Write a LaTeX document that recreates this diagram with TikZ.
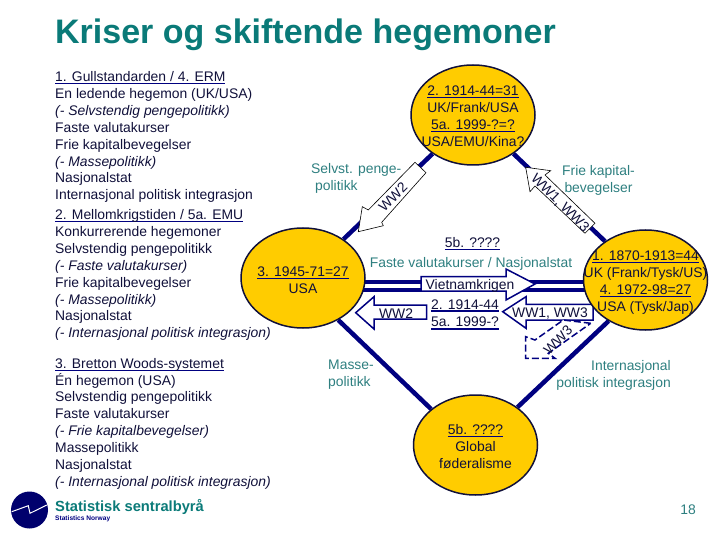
\documentclass[tikz,border=0pt]{standalone}
\usepackage{fontspec}
\setmainfont{Liberation Sans}
\usetikzlibrary{calc,shapes.geometric}
\pgfdeclarelayer{bg}
\pgfsetlayers{bg,main}
\definecolor{navy}{HTML}{000080}
\definecolor{ink}{HTML}{10103A}
\definecolor{tealt}{HTML}{0A7A78}
\definecolor{tealn}{HTML}{2E7F80}
\definecolor{gold}{HTML}{FFCC00}
\newcommand\ulx[1]{\sbox0{#1}\leavevmode\rlap{\textcolor{navy}{\rule[-2.6pt]{\wd0}{1.3pt}}}\box0 }
\newcommand\fs{\fontsize{13.9}{16.85}\selectfont}
\tikzset{
  x=1pt,y=-1pt,
  hub/.style={ellipse,draw=ink,line width=1.5pt,fill=gold,minimum width=124pt,minimum height=100pt,inner sep=0pt},
  link/.style={draw=navy,line width=4.5pt},
  blockA/.style={draw=black,line width=.6pt,fill=white},
  blockB/.style={draw=navy,line width=1.5pt,fill=white},
  blockC/.style={draw=navy,line width=1.5pt,fill=white,dashed,dash pattern=on 7pt off 3pt},
  txt/.style={text=ink,font=\fs,inner sep=0pt,align=center},
  lab/.style={text=tealn,font=\fs,inner sep=0pt},
  body/.style={text=ink,font=\fs,inner sep=0pt,align=left,anchor=north west}
}
\begin{document}
\begin{tikzpicture}
\useasboundingbox (0,0) rectangle (720,540);
\node[hub] (et) at (473,115) {};
\node[hub] (el) at (303,278) {};
\node[hub] (er) at (645.5,280) {};
\node[hub] (eb) at (475.5,445) {};
\begin{pgfonlayer}{bg}
\draw[link] (et) -- (el);
\draw[link] (et) -- (er);
\draw[link] (el.-50) -- (eb.141);
\draw[link] (er.-132) -- (eb.42);
\draw[link,line width=4pt] ($(el.center)+(0,4)$) -- ($(er.center)+(0,2)$);
\draw[link,line width=4pt] ($(el.center)+(0,12)$) -- ($(er.center)+(0,10)$);
\draw[blockA] (415,162.3) -- (426,172.7) -- (381.7,222.3) -- (383.3,225.7) -- (358.3,231.7) -- (362.3,206.7) -- (368.3,210) -- cycle;
\draw[blockA] (525.7,167.3) -- (550.7,170.7) -- (545,175) -- (595,223.3) -- (585,233.3) -- (535,186) -- (530,191.7) -- cycle;
\draw[blockB] (421,276.7) -- (506,276.7) -- (506,269) -- (535,284) -- (506,300) -- (506,291) -- (421,291) -- cycle;
\draw[blockB] (426.7,305) -- (374,305) -- (374,296.7) -- (355.7,312.7) -- (374,329) -- (374,319) -- (426.7,319) -- cycle;
\draw[blockB] (593,304.3) -- (526,304.3) -- (526,296.7) -- (502.7,311.7) -- (526,328.3) -- (526,320) -- (593,320) -- cycle;
\draw[blockC] (590.7,323.3) -- (563.3,320) -- (535,340) -- (525.7,336.7) -- (525.7,358.3) -- (555,358.3) -- (548.3,353.3) -- cycle;
\end{pgfonlayer}
% title
\node[text=tealt,font=\fontsize{34}{38}\selectfont\bfseries,anchor=west,inner sep=0pt] (title) at (55,35) {Kriser og skiftende hegemoner};
% left column
\node[body] (b1) at (55,71.5) {\ulx{1. Gullstandarden / 4. ERM}\\En ledende hegemon (UK/USA)\\\textit{(- Selvstendig pengepolitikk)}\\Faste valutakurser\\Frie kapitalbevegelser\\\textit{(- Massepolitikk)}\\Nasjonalstat\\Internasjonal politisk integrasjon};
\node[body] (b2) at (55,209.5) {\ulx{2. Mellomkrigstiden / 5a. EMU}\\Konkurrerende hegemoner\\Selvstendig pengepolitikk\\\textit{(- Faste valutakurser)}\\Frie kapitalbevegelser\\\textit{(- Massepolitikk)}\\Nasjonalstat\\\textit{(- Internasjonal politisk integrasjon)}};
\node[body] (b3) at (55,358) {\ulx{3. Bretton Woods-systemet}\\Én hegemon (USA)\\Selvstendig pengepolitikk\\Faste valutakurser\\\textit{(- Frie kapitalbevegelser)}\\Massepolitikk\\Nasjonalstat\\\textit{(- Internasjonal politisk integrasjon)}};
% hub texts
\node[txt] (tt) at (473,116) {\ulx{2. 1914-44=31}\\UK/Frank/USA\\\ulx{5a. 1999-?=?}\\USA/EMU/Kina?};
\node[txt] (tl) at (303,280.5) {\ulx{3. 1945-71=27}\\USA};
\node[txt] (tr) at (645.5,282.5) {\ulx{1. 1870-1913=44}\\UK (Frank/Tysk/US)\\\ulx{4. 1972-98=27}\\USA (Tysk/Jap)};
\node[txt] (tb) at (475.5,446.5) {\ulx{5b. ????}\\Global\\føderalisme};
% teal labels
\node[lab,align=left,anchor=west] (l1) at (311,178.5) {Selvst. penge-\\\hspace*{4pt}politikk};
\node[lab,align=center] (l2) at (598.5,180) {Frie kapital-\\bevegelser};
\node[lab] (l3) at (471,263.5) {Faste valutakurser / Nasjonalstat};
\node[lab,align=left,anchor=west] (l4) at (328,375) {Masse-\\politikk};
\node[lab,align=right,anchor=east] (l5) at (671,375) {Internasjonal\\politisk integrasjon};
\node[lab] (pg) at (688,510) {18};
\node[txt] (h5b) at (472.5,244) {\ulx{5b. ????}};
\node[txt] (yrs) at (465,314.5) {\ulx{2. 1914-44}\\[1pt]\ulx{5a. 1999-?}};
% arrow texts
\node[txt] (a1) at (470,285.5) {Vietnamkrigen};
\node[txt] (a2) at (396,314) {WW2};
\node[txt] (a3) at (550,314) {WW1, WW3};
\node[txt,rotate=45] (a4) at (558,340) {WW3};
\node[txt,rotate=45] (a5) at (393,197) {WW2};
\node[txt,rotate=-45] (a6) at (560,203) {WW1, WW3};
% logo
\fill[navy!85!black] (29.5,510) circle (18.5);
\draw[white,line width=1pt] (11.7,511.7) -- (28.3,505.7) -- (30,513.3) -- (46.7,505);
\node[text=tealt,font=\fontsize{14.7}{16}\selectfont\bfseries,anchor=west,inner sep=0pt] (lg1) at (55,507) {Statistisk sentralbyrå};
\node[text=navy,font=\fontsize{6.6}{8}\selectfont\bfseries,anchor=west,inner sep=0pt] (lg2) at (55,518.5) {Statistics Norway};
\end{tikzpicture}
\end{document}
